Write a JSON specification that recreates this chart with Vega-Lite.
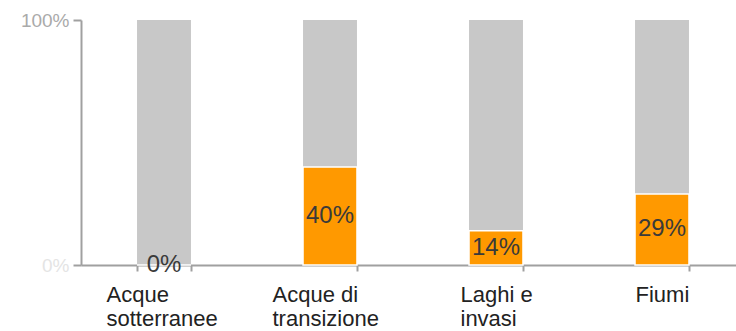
{
  "$schema": "https://vega.github.io/schema/vega-lite/v6.json",
  "autosize": "none",
  "width": 664,
  "height": 245,
  "padding": {"left": 81, "top": 20, "right": 0, "bottom": 66},
  "background": "white",
  "config": {"view": {"stroke": null}, "font": "Liberation Sans"},
  "data": {"values": [
    {"cat": "Acque sotterranee", "total": 1, "pct": 0},
    {"cat": "Acque di transizione", "total": 1, "pct": 0.40},
    {"cat": "Laghi e invasi", "total": 1, "pct": 0.14},
    {"cat": "Fiumi", "total": 1, "pct": 0.29}
  ]},
  "encoding": {
    "x": {
      "field": "cat", "type": "nominal", "sort": null,
      "scale": {"paddingInner": 0.675, "paddingOuter": 0.3375},
      "axis": {
        "title": null, "labelAngle": 0, "tickBand": "extent",
        "domainColor": "#a0a0a0", "domainWidth": 2, "tickColor": "#a0a0a0", "tickWidth": 2, "tickSize": 6,
        "labelFontSize": 22, "labelColor": "#222", "labelPadding": 13, "labelLineHeight": 24,
        "labelAlign": "left",
        "labelOffset": {"condition": [
          {"test": "datum.value == 'Acque sotterranee'", "value": -58},
          {"test": "datum.value == 'Acque di transizione'", "value": -58},
          {"test": "datum.value == 'Laghi e invasi'", "value": -36}
        ], "value": -27},
        "labelExpr": "datum.value == 'Acque sotterranee' ? ['Acque', 'sotterranee'] : datum.value == 'Acque di transizione' ? ['Acque di', 'transizione'] : datum.value == 'Laghi e invasi' ? ['Laghi e', 'invasi'] : datum.value"
      }
    }
  },
  "layer": [
    {
      "mark": {"type": "bar", "color": "#c8c8c8"},
      "encoding": {
        "y": {"field": "total", "type": "quantitative", "scale": {"domain": [0, 1], "nice": false},
          "axis": {"title": null, "values": [0, 1], "format": ".0%", "grid": false,
            "domainColor": "#a0a0a0", "domainWidth": 2, "tickColor": "#a0a0a0", "tickWidth": 2, "tickSize": 8,
            "labelFontSize": 19, "labelPadding": 4,
            "labelColor": {"condition": {"test": "datum.value == 0", "value": "#e4e4e4"}, "value": "#aaaaaa"}}}
      }
    },
    {
      "mark": {"type": "bar", "color": "#ff9900", "stroke": "white", "strokeWidth": 1.5},
      "encoding": {"y": {"field": "pct", "type": "quantitative"}}
    },
    {
      "transform": [{"calculate": "datum.pct / 2", "as": "mid"}],
      "mark": {"type": "text", "fontSize": 24, "color": "#3a3a3a", "baseline": "middle"},
      "encoding": {
        "y": {"field": "mid", "type": "quantitative"},
        "text": {"field": "pct", "type": "quantitative", "format": ".0%"}
      }
    }
  ]
}
